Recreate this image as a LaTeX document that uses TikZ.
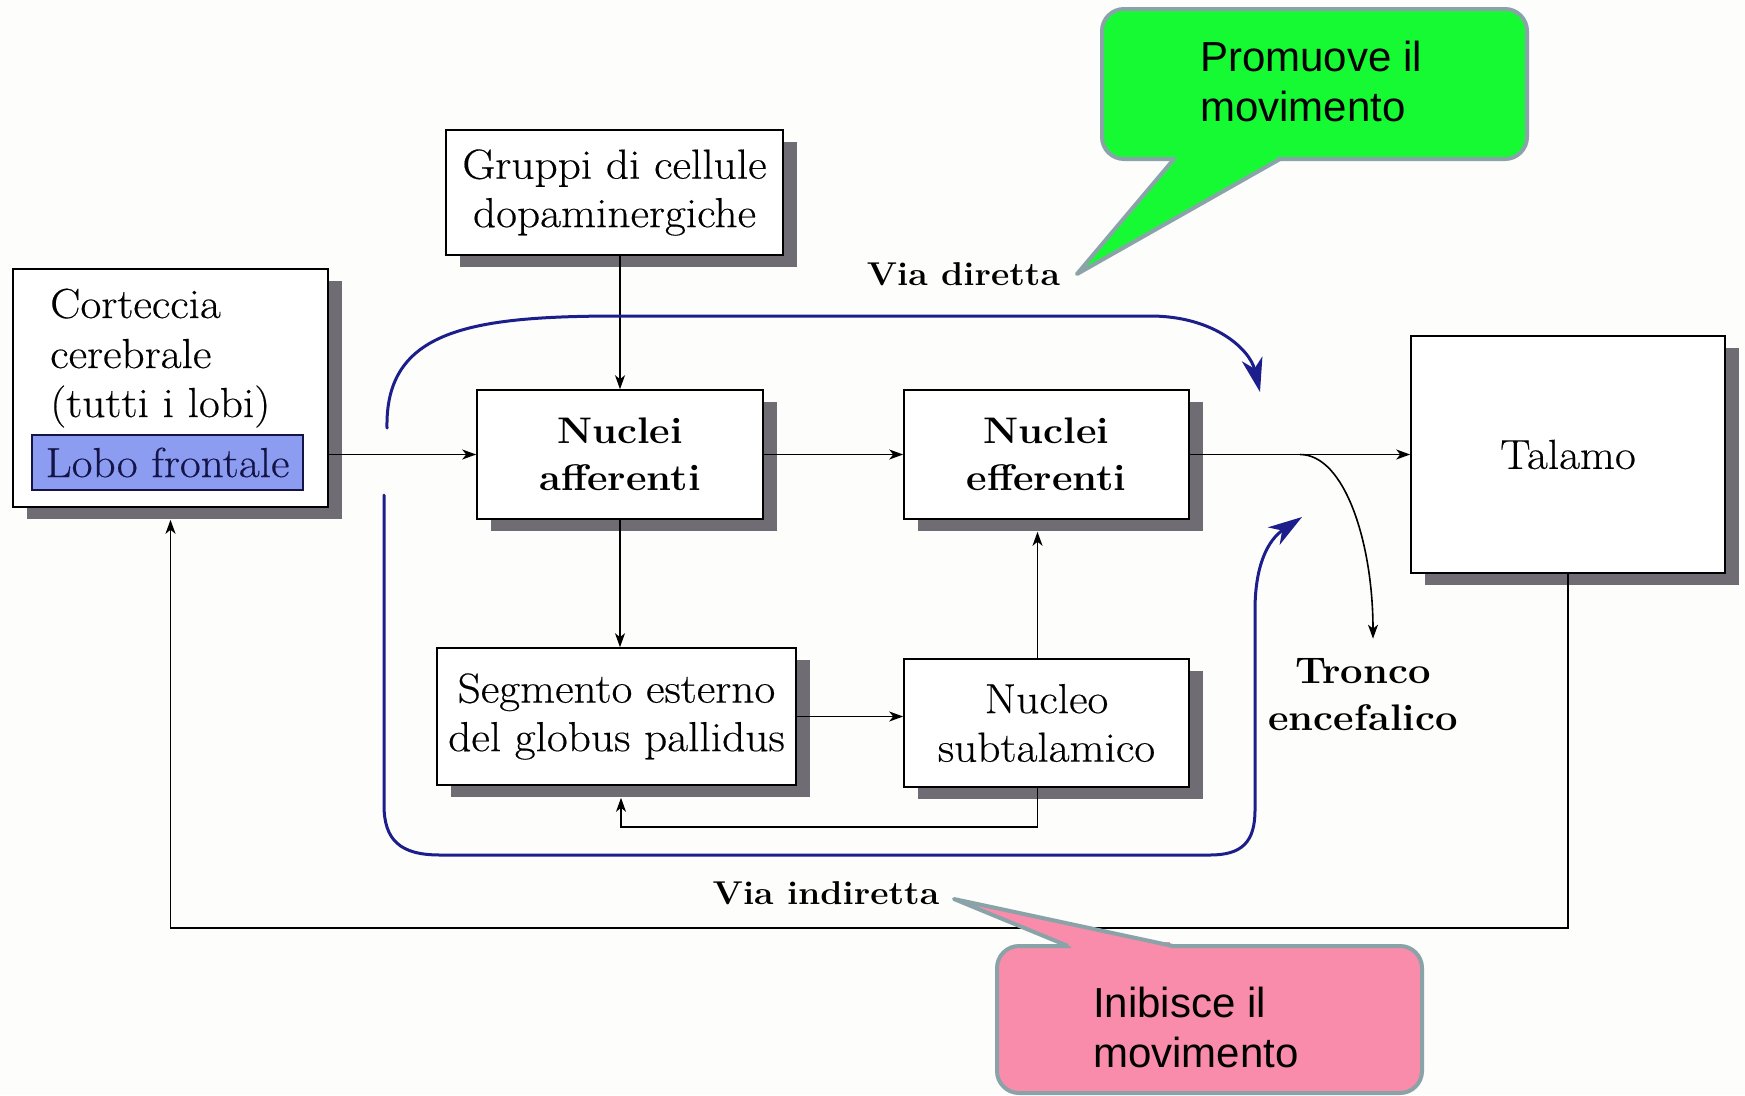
\documentclass[tikz,border=0pt]{standalone}
\usepackage{fontspec}
\setmainfont{Latin Modern Roman}[FakeStretch=1.08, UprightFeatures={FakeBold=0.35}]
\usetikzlibrary{arrows.meta,shadows,calc}
\newfontfamily\calloutfont{Liberation Sans}
\definecolor{bg}{RGB}{253,253,251}
\definecolor{shgray}{RGB}{112,108,116}
\definecolor{viablue}{RGB}{28,30,140}
\definecolor{lobofill}{RGB}{140,156,240}
\definecolor{lobotext}{RGB}{20,20,70}
\definecolor{calgreen}{RGB}{22,250,52}
\definecolor{calpink}{RGB}{248,140,170}
\definecolor{calborder}{RGB}{138,163,168}
\newcommand\regfont{\fontsize{42}{48.5}\selectfont}
\newcommand\bldfont{\fontsize{37}{47}\selectfont\bfseries}
\newcommand\viafont{\fontsize{33}{42}\selectfont\bfseries}
\newcommand\calfont{\calloutfont\fontsize{42}{50}\selectfont}
\begin{document}
\begin{tikzpicture}[x=1pt,y=-1pt,
  box/.style={draw=black, line width=1.6pt, fill=white, inner sep=0pt, align=center,
    general shadow={fill=shgray, shadow xshift=14pt, shadow yshift=-12pt}},
  conn/.style={draw=black, line width=1.6pt, -{Stealth[length=14pt,width=10pt,inset=4pt]}},
  via/.style={draw=viablue, line width=3pt, line cap=round, -{Stealth[length=34pt,width=21pt,inset=10pt]}},
  callout/.style={draw=calborder, line width=4pt, rounded corners=22pt, inner sep=0pt},
  tail/.style={draw=calborder, line width=4pt, line join=round}
]
\useasboundingbox (0,0) rectangle (1745,1095);
\fill[bg] (0,0) rectangle (1745,1095);

% boxes
\node[box, minimum width=315pt, minimum height=238pt] (ctx) at (170.5,388) {};
\node[font=\regfont, anchor=base west, inner sep=0pt] (ctx1) at (50,318) {Corteccia};
\node[font=\regfont, anchor=base west, inner sep=0pt] (ctx2) at (50,368) {cerebrale};
\node[font=\regfont, anchor=base west, inner sep=0pt] (ctx3) at (50,417) {(tutti i lobi)};
\node[draw=lobotext, line width=1.6pt, fill=lobofill, minimum width=271pt, minimum height=55pt,
  inner sep=0pt, font=\regfont, text=lobotext] (lobo) at (167.5,462.5) {Lobo frontale};

\node[box, minimum width=337pt, minimum height=125pt, font=\regfont] (grp) at (614.5,192.5) {Gruppi di cellule\\dopaminergiche};
\node[box, minimum width=286pt, minimum height=129pt, font=\bldfont] (aff) at (620,454.5) {Nuclei\\afferenti};
\node[box, minimum width=285pt, minimum height=129pt, font=\bldfont] (eff) at (1046.5,454.5) {Nuclei\\efferenti};
\node[box, minimum width=359pt, minimum height=137pt, font=\regfont] (seg) at (616.5,716.5) {Segmento esterno\\del globus pallidus};
\node[box, minimum width=285pt, minimum height=128pt, font=\regfont] (stn) at (1046.5,723) {Nucleo\\subtalamico};
\node[box, minimum width=314pt, minimum height=237pt, font=\regfont] (tal) at (1568,454.5) {Talamo};

\node[font=\bldfont, align=center, inner sep=0pt] (tronco) at (1363,695) {Tronco\\encefalico};
\node[font=\viafont, anchor=base, inner sep=0pt] (vd) at (963.5,285) {Via diretta};
\node[font=\viafont, anchor=base, inner sep=0pt] (vi) at (826,904) {Via indiretta};

% connectors
\draw[conn] (grp.south -| aff.north) -- (aff.north);
\draw[conn] (aff.west -| ctx.east) -- (aff.west);
\draw[conn] (aff.east) -- (eff.west);
\draw[conn] (eff.east) -- (tal.west);
\draw[conn] (aff.south) -- (aff.south |- seg.north);
\draw[conn] (seg.east) -- (seg.east -| stn.west);
\coordinate (stnN) at ([xshift=-9pt]stn.north);
\coordinate (effS) at ([yshift=-12pt]eff.south);
\draw[conn] (stnN) -- (stnN |- effS);
\coordinate (stnS) at ([xshift=-9pt]stn.south);
\coordinate (segS) at ([xshift=4.5pt,yshift=-12pt]seg.south);
\draw[conn] (stnS) -- ++(0,39) -| (segS);
\coordinate (ctxS) at ([yshift=-12pt]ctx.south);
\draw[conn] (tal.south) -- ++(0,354) -| (ctxS);
\coordinate (br) at ($(eff.east)!0.5!(tal.west)$);
\coordinate (trtip) at ([xshift=10pt,yshift=20pt]tronco.north);
\draw[conn] (br) .. controls +(45,0) and +(0,-95) .. (trtip);

% blue pathways
\coordinate (vdS) at (387,428);
\coordinate (vdE) at (1260,392);
\draw[via] (vdS) .. controls (385,330) and (470,316) .. (620,316) -- (1150,316)
  .. controls (1215,316) and (1250,350) .. (vdE);
\coordinate (viS) at (384,495);
\coordinate (viE) at (1302,517);
\draw[via] (viS) -- (384,805) .. controls (384,840) and (400,855) .. (440,855) -- (1210,855)
  .. controls (1242,855) and (1255,842) .. (1255,810) -- (1255,610)
  .. controls (1255,565) and (1268,540) .. (viE);

% green callout
\node[callout, fill=calgreen, minimum width=425pt, minimum height=150pt] (prom) at (1314.5,84) {};
\coordinate (promtip) at (1077,274);
\fill[calgreen] (1174,159) -- (promtip) -- (1280,159) -- cycle;
\fill[calgreen] (1177,155) rectangle (1277,163);
\draw[tail] (1174,159) -- (promtip) -- (1280,159);
\node[font=\calfont, align=left, anchor=west, inner sep=0pt] (promt) at (1200,81.5) {Promuove il\\movimento};

% pink callout
\node[callout, fill=calpink, minimum width=425pt, minimum height=147pt] (inib) at (1209.5,1019.5) {};
\coordinate (inibtip) at (954,899);
\fill[calpink] (1068,946) -- (inibtip) -- (1173,946) -- cycle;
\fill[calpink] (1071,942) rectangle (1170,951);
\draw[tail] (1068,946) -- (inibtip) -- (1173,946);
\node[font=\calfont, align=left, anchor=west, inner sep=0pt] (inibt) at (1093,1027.5) {Inibisce il\\movimento};
\end{tikzpicture}
\end{document}
